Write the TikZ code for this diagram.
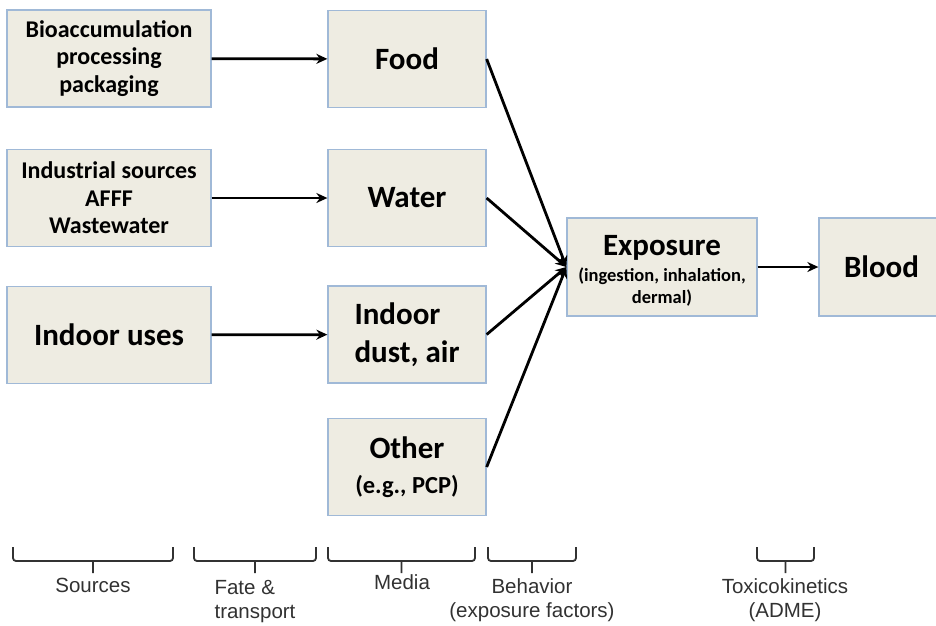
\documentclass[tikz,border=0pt]{standalone}
\usepackage{fontspec}
\setmainfont{Carlito}
\newfontfamily\labelfont{Liberation Sans}
\usetikzlibrary{arrows.meta}
\definecolor{boxfill}{RGB}{238,236,226}
\definecolor{boxline}{RGB}{160,185,215}
\definecolor{labelgray}{RGB}{50,50,50}
\tikzset{
  box/.style={draw=boxline, fill=boxfill, line width=1.3pt, align=center,
    inner sep=2pt, font=\bfseries\fontsize{31}{38}\selectfont},
  srcbox/.style={box, minimum width=204pt, minimum height=97pt},
  mediabox/.style={box, minimum width=158pt, minimum height=97pt},
  smalltext/.style={font=\bfseries\fontsize{24}{27.5}\selectfont},
  flow/.style={line width=2.8pt, -{Stealth[length=11pt,width=10pt]}},
  bracket/.style={line width=1.8pt, labelgray, rounded corners=3pt},
  stage/.style={text=labelgray, align=center, inner sep=0pt,
    font=\labelfont\fontsize{20.5}{24}\selectfont}
}
\newcommand\subsize{\fontsize{18.5}{22}\selectfont}
\begin{document}
\begin{tikzpicture}[x=1pt,y=-1pt]
      \clip (0,0) rectangle (936,625);
      \fill[white] (0,0) rectangle (936,625);
      % sources
      \node[srcbox, smalltext] (bio) at (109,58.5) {Bioaccumulation\\processing\\packaging};
      \node[srcbox, smalltext] (ind) at (109,198) {Industrial sources\\AFFF\\Wastewater};
      \node[srcbox] (uses) at (109,335) {Indoor uses};
      % media
      \node[mediabox] (food) at (407,59) {Food};
      \node[mediabox] (water) at (407,198) {Water};
      \node[mediabox, align=left] (dust) at (407,334.5) {Indoor\\dust, air};
      \node[mediabox] (other) at (407,467) {Other\\[-3pt]\fontsize{24.5}{28}\selectfont (e.g., PCP)};
      % exposure and blood
      \node[box, minimum width=190pt, minimum height=98pt] (expo) at (662,267)
        {\rule{0pt}{31pt}Exposure\\[-1pt]{\subsize\begin{tabular}{@{}c@{}}(ingestion, inhalation,\\dermal)\end{tabular}}};
      \node[box, minimum width=125pt, minimum height=98pt] (blood) at (881.5,267) {Blood};
      \begin{scope}[flow]
        \draw (bio) to (food);
        \draw (ind) to (water);
        \draw (uses) to (dust);
        \draw (food.east) to (expo.west);
        \draw (water.east) to (expo.west);
        \draw (dust.east) to (expo.west);
        \draw (other.east) to (expo.west);
        \draw (expo) to (blood);
      \end{scope}
      % stages
      \foreach \xa/\xb in {13/173, 194/316, 328/475, 488/576, 757/814}
        \draw[bracket] (\xa,547) -- (\xa,561) -- (\xb,561) -- (\xb,547)
          ({(\xa+\xb)/2},561) -- ({(\xa+\xb)/2},573);
      \node[stage] (sources) at (93,585) {Sources};
      \node[stage, align=left] (fate) at (255,602) {Fate \&\\transport};
      \node[stage] (mediatxt) at (402,582) {Media};
      \node[stage] (behav) at (532,600) {Behavior\\(exposure factors)};
      \node[stage] (tox) at (785,600) {Toxicokinetics\\(ADME)};
    \end{tikzpicture}
\end{document}
